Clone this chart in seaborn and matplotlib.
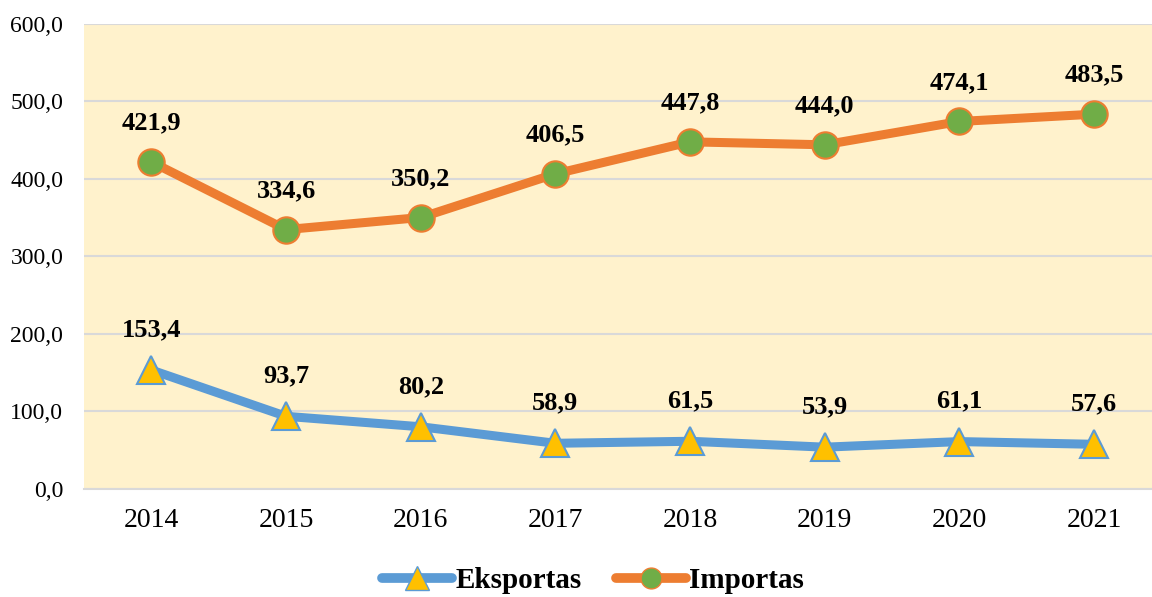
import numpy as np
import pandas as pd
import seaborn as sns
import matplotlib
matplotlib.use('Agg')
import matplotlib.pyplot as plt
from matplotlib.lines import Line2D

years = ['2014', '2015', '2016', '2017', '2018', '2019', '2020', '2021']
eksportas = [153.4, 93.7, 80.2, 58.9, 61.5, 53.9, 61.1, 57.6]
importas = [421.9, 334.6, 350.2, 406.5, 447.8, 444.0, 474.1, 483.5]
yticks = [0, 100, 200, 300, 400, 500, 600]

sns.set_style('white')
plt.rcParams['font.family'] = ['Liberation Serif', 'DejaVu Serif']
plt.rcParams['text.color'] = 'black'
plt.rcParams['xtick.color'] = 'black'
plt.rcParams['ytick.color'] = 'black'

fig = plt.figure(figsize=(11.52, 5.97), dpi=100)
ax = fig.add_axes([0.073, 0.181, 0.927, 0.779])
ax.set_facecolor('#FFF2CC')

pos = np.arange(len(years))
df = pd.DataFrame({'pos': pos, 'Eksportas': eksportas, 'Importas': importas})

sns.lineplot(data=df, x='pos', y='Eksportas', ax=ax, color='#5B9BD5', linewidth=6.5,
             marker='^', markersize=20, markerfacecolor='#FFC000',
             markeredgecolor='#5B9BD5', markeredgewidth=1.5, zorder=3)
sns.lineplot(data=df, x='pos', y='Importas', ax=ax, color='#ED7D31', linewidth=6.5,
             marker='o', markersize=19, markerfacecolor='#70AD47',
             markeredgecolor='#ED7D31', markeredgewidth=1.5, zorder=3)

def fmt(v):
    return '{:.1f}'.format(v).replace('.', ',')

for p, v in zip(pos, eksportas):
    ax.annotate(fmt(v), (p, v), xytext=(0, 29), textcoords='offset points',
                ha='center', va='center', fontsize=19, fontweight='bold')
for p, v in zip(pos, importas):
    ax.annotate(fmt(v), (p, v), xytext=(0, 28), textcoords='offset points',
                ha='center', va='center', fontsize=19, fontweight='bold')

ax.set_ylim(0, 600)
ax.set_xlim(-0.5, 7.43)
ax.set_yticks(yticks)
ax.set_yticklabels([fmt(t) for t in yticks], fontsize=17)
ax.set_xticks(pos)
ax.set_xticklabels(years, fontsize=20)
ax.tick_params(axis='y', length=0, pad=15)
ax.tick_params(axis='x', length=0, pad=14)
ax.yaxis.grid(True, color='#D9D9D9', linewidth=1.5)
ax.set_axisbelow(True)
for s in ['top', 'right', 'left']:
    ax.spines[s].set_visible(False)
ax.spines['bottom'].set_color('#D9D9D9')
ax.spines['bottom'].set_linewidth(1.5)
ax.set_xlabel('')
ax.set_ylabel('')

handles = [
    Line2D([0], [0], color='#5B9BD5', linewidth=7, solid_capstyle='round', marker='^',
           markersize=17, markerfacecolor='#FFC000', markeredgecolor='#5B9BD5'),
    Line2D([0], [0], color='#ED7D31', linewidth=7, solid_capstyle='round', marker='o',
           markersize=15, markerfacecolor='#70AD47', markeredgecolor='#ED7D31'),
]
fig.legend(handles, ['Eksportas', 'Importas'], loc='center', bbox_to_anchor=(0.515, 0.027),
           ncol=2, frameon=False, prop={'size': 21, 'weight': 'bold'},
           handlelength=2.4, handletextpad=0.1, columnspacing=1.2)

plt.savefig('out.png', dpi=100)
